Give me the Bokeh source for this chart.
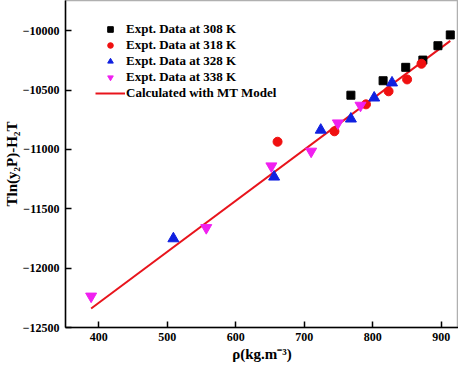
from bokeh.plotting import figure
from bokeh.models import Legend, LegendItem, Range1d
from bokeh.embed import file_html
from bokeh.resources import INLINE

# Data
rho_308 = [768, 815, 848, 873, 895, 913]
val_308 = [-10543, -10421, -10308, -10247, -10126, -10035]

rho_318 = [661, 744, 790, 823, 850, 871]
val_318 = [-10935, -10847, -10620, -10510, -10410, -10278]

rho_328 = [509, 656, 724, 768, 802, 828]
val_328 = [-11751, -11231, -10836, -10742, -10565, -10438]

rho_338 = [389, 557, 652, 710, 749, 782]
val_338 = [-12237, -11660, -11140, -11016, -10778, -10629]

rho_model = [389, 913]
val_model = [-12340, -10085]

x_ticks = [400, 500, 600, 700, 800, 900]
y_ticks = [-12500, -12000, -11500, -11000, -10500, -10000]

FONT = "Liberation Serif"

p = figure(width=458, height=364, output_backend="svg", toolbar_location=None,
           x_range=Range1d(351.6, 925), y_range=Range1d(-12500, -9745),
           min_border_left=50, min_border_right=0, min_border_top=0, min_border_bottom=30,
           background_fill_color="white", border_fill_color="white")
p.outline_line_color = "#b0b0b0"
p.outline_line_width = 1.5
p.grid.visible = False

xax = p.below[0]
yax = p.left[0]
for ax in (xax, yax):
    ax.axis_line_color = "black"
    ax.axis_line_width = 1.5
    ax.major_tick_line_color = "black"
    ax.major_tick_line_width = 1.5
    ax.major_tick_in = 6
    ax.major_tick_out = 0
    ax.minor_tick_in = 2
    ax.minor_tick_out = 0
    ax.minor_tick_line_color = "black"
    ax.major_label_text_font = FONT
    ax.major_label_text_font_style = "bold"
    ax.major_label_text_font_size = "12px"
    ax.major_label_text_color = "black"
    ax.axis_label_text_font = FONT
    ax.axis_label_text_font_style = "bold"
    ax.axis_label_text_font_size = "15px"
    ax.axis_label_text_color = "black"

xax.ticker = x_ticks
yax.ticker = y_ticks
xax.major_label_standoff = 5
yax.major_label_standoff = 6
xax.axis_label = "ρ(kg.m⁻³)"
yax.axis_label = "Tln(y₂P)-H₂T"
xax.axis_label_standoff = 2
yax.axis_label_standoff = 0

r_model = p.line(rho_model, val_model, line_color="#e8141c", line_width=2)
r308 = p.scatter(rho_308, val_308, marker="square", size=8, fill_color="black", line_color="black")
r318 = p.scatter(rho_318, val_318, marker="circle", size=9, fill_color="#f01010", line_color="#f01010")
r328 = p.scatter(rho_328, val_328, marker="triangle", size=11, fill_color="#1020e0", line_color="#1020e0")
r338 = p.scatter(rho_338, val_338, marker="inverted_triangle", size=11, fill_color="#f020f0", line_color="#f020f0")

legend = Legend(items=[
    LegendItem(label="Expt. Data at 308 K", renderers=[r308]),
    LegendItem(label="Expt. Data at 318 K", renderers=[r318]),
    LegendItem(label="Expt. Data at 328 K", renderers=[r328]),
    LegendItem(label="Expt. Data at 338 K", renderers=[r338]),
    LegendItem(label="Calculated with MT Model", renderers=[r_model]),
], location=(30, 226))
legend.border_line_color = None
legend.background_fill_alpha = 0
legend.padding = 0
legend.margin = 0
legend.spacing = 0
legend.glyph_width = 30
legend.glyph_height = 14
legend.label_height = 14
legend.label_standoff = 1
legend.label_text_font = FONT
legend.label_text_font_style = "bold"
legend.label_text_font_size = "13px"
legend.label_text_color = "black"
p.add_layout(legend, "center")

open("out.html", "w").write(file_html(p, INLINE))
